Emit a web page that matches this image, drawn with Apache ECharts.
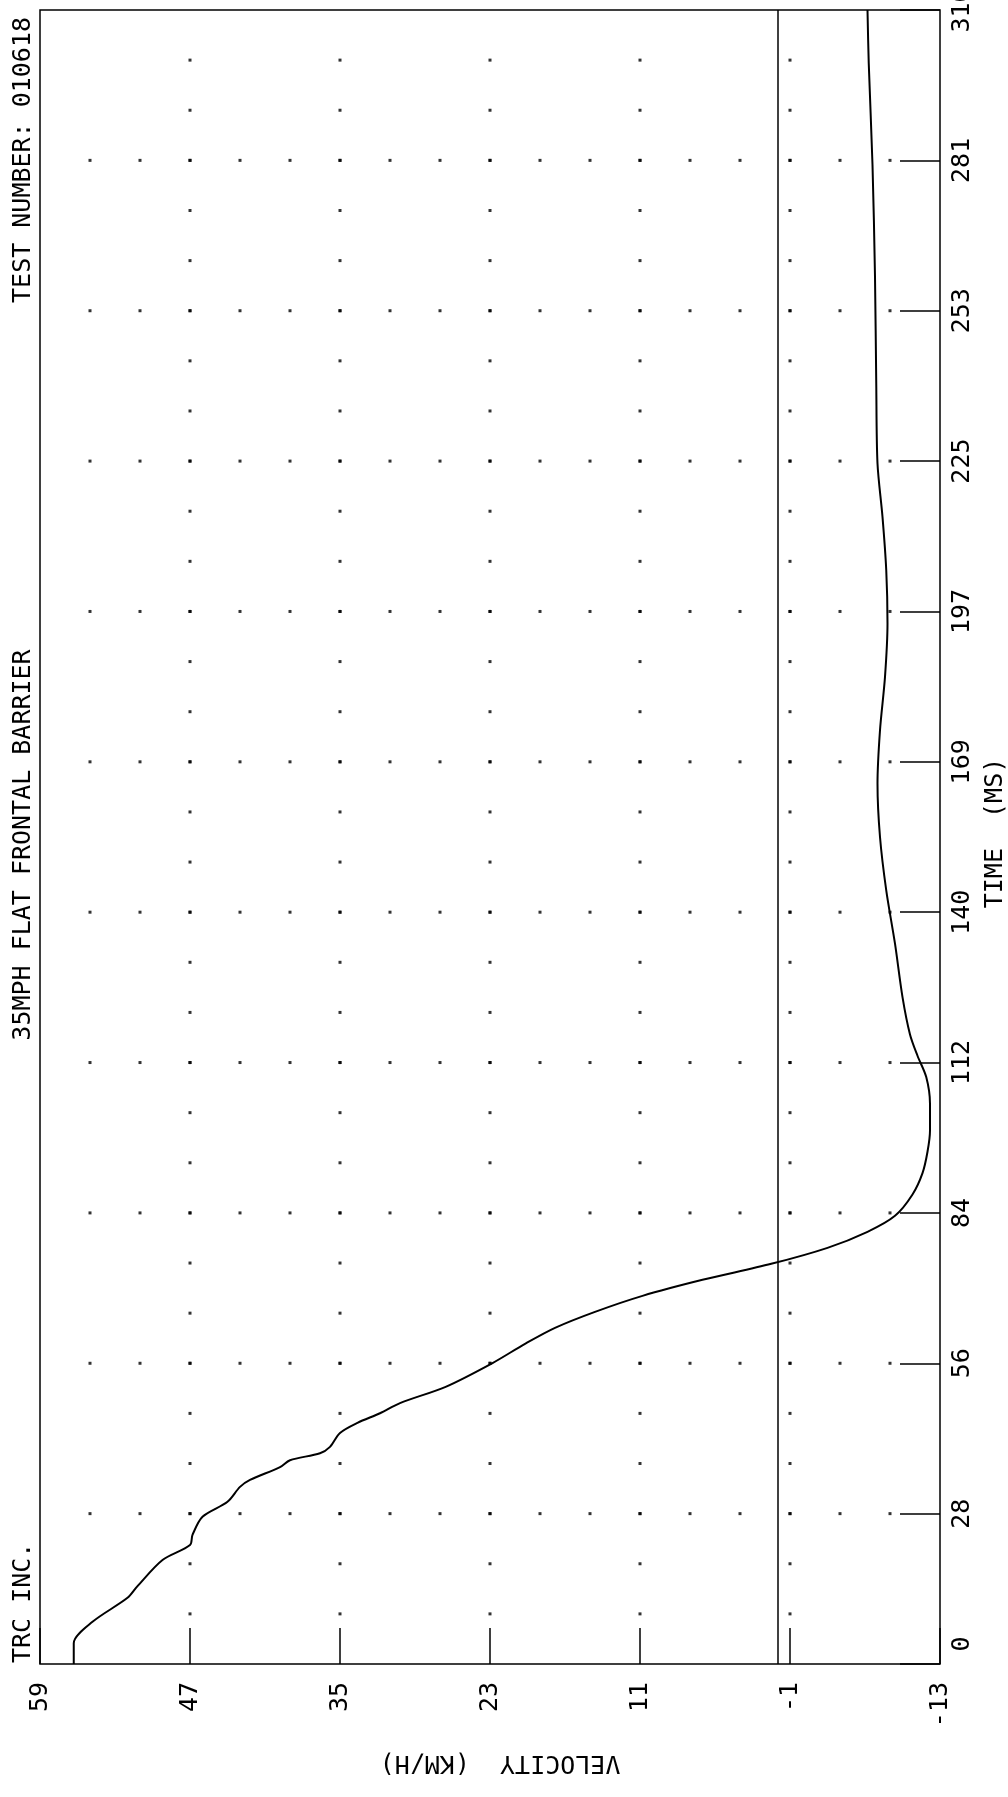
<!DOCTYPE html>
<html>
<head>
<meta charset="utf-8">
<script src="https://cdn.jsdelivr.net/npm/echarts@6/dist/echarts.min.js"></script>
<style>
html,body{margin:0;padding:0;background:#fff;}
#chart{width:1008px;height:1797px;}
</style>
</head>
<body>
<div id="chart"></div>
<script>
// ---- data ----
const timeMs = [0, 3.9, 7.9, 12.4, 14.6, 19.5, 22.3, 24.2, 27.6, 30.4, 33.2, 34.5, 36.9, 38.2, 39.5, 40.7, 43.3, 45.2, 47.0, 48.9, 52, 56.4, 60, 63, 66, 69, 72, 75, 78, 81, 84, 88, 92, 96, 100, 105, 110, 114, 118, 125, 135, 145, 155, 165, 175, 185, 195, 205, 215, 225, 240, 260, 281, 300, 310];
const velocityKmh = [56.3, 56.3, 54.8, 52.0, 51.2, 49.2, 47.0, 46.8, 46.0, 44.0, 43.0, 42.2, 39.8, 39.0, 36.6, 35.8, 35.0, 33.6, 31.8, 30.2, 26.5, 22.8, 20.2, 17.8, 14.6, 10.8, 6.0, 0.5, -4.0, -7.2, -9.4, -10.8, -11.6, -12.0, -12.2, -12.2, -11.9, -11.2, -10.6, -10.0, -9.4, -8.7, -8.2, -8.0, -8.2, -8.6, -8.8, -8.7, -8.4, -8.0, -7.9, -7.8, -7.6, -7.3, -7.2];
const velocityTicks = [59, 47, 35, 23, 11, -1, -13];
const timeTickLabels = ['0', '28', '56', '84', '112', '140', '169', '197', '225', '253', '281', '310'];
const timeMax = 310;
const velMin = -13, velMax = 59;
const titleText = '35MPH FLAT FRONTAL BARRIER';
const testText = 'TEST NUMBER: 010618';
const orgText = 'TRC INC.';
const xName = 'TIME  (MS)';
const yName = 'VELOCITY  (KM/H)';

// ---- derived ----
const timeTicks = timeTickLabels.map((_, i) => i * timeMax / 11);
const series = timeMs.map((t, i) => [velocityKmh[i], t]);
const dots = [];
for (let i = 1; i < timeTicks.length - 1; i++) {
  for (let v = velMax - 4; v > velMin; v -= 4) dots.push([v, timeTicks[i]]);
}
velocityTicks.slice(1, -1).forEach(v => {
  for (let j = 1; j < 33; j++) dots.push([v, j * timeMax / 33]);
});

const FONT = 'DejaVu Sans Mono';
const chart = echarts.init(document.getElementById('chart'), null, {renderer: 'canvas'});
chart.setOption({
  animation: false,
  backgroundColor: '#fff',
  grid: {left: 40, right: 68, top: 10, bottom: 133, containLabel: false, outerBoundsMode: 'none',
    show: true, borderColor: '#000', borderWidth: 1.5, backgroundColor: 'transparent'},
  xAxis: {
    type: 'value', min: velMin, max: velMax, inverse: true,
    axisLine: {show: false, onZero: false},
    splitLine: {show: false},
    axisTick: {show: true, inside: true, length: 36, customValues: velocityTicks, lineStyle: {color: '#000', width: 1.5}},
    axisLabel: {show: true, customValues: velocityTicks, rotate: 90, margin: 18, color: '#000', fontFamily: FONT, fontSize: 25,
      formatter: v => String(velocityTicks.find(x => Math.abs(x - v) < 1e-6))}
  },
  yAxis: {
    type: 'value', min: 0, max: timeMax, position: 'right',
    axisLine: {show: false, onZero: false},
    splitLine: {show: false},
    axisTick: {show: true, inside: true, length: 40, customValues: timeTicks, lineStyle: {color: '#000', width: 1.5}},
    axisLabel: {show: true, customValues: timeTicks, rotate: 90, margin: 10, color: '#000', fontFamily: FONT, fontSize: 25,
      rich: {
        z: {fontFamily: FONT, fontSize: 25, color: '#000', padding: [0, 0, 0, 40]}
      },
      formatter: v => {
        let k = 0, best = 1e9;
        timeTicks.forEach((t, i) => { if (Math.abs(t - v) < best) { best = Math.abs(t - v); k = i; } });
        if (k === 0) return '{z|' + timeTickLabels[k] + '}';
        return timeTickLabels[k];
      }}
  },
  series: [
    {
      type: 'scatter', data: dots, symbol: 'rect', symbolSize: 3, silent: true,
      itemStyle: {color: '#000'}, z: 1
    },
    {
      type: 'line', data: series, showSymbol: false, smooth: 0.3, silent: true,
      lineStyle: {color: '#000', width: 2}, z: 3,
      markLine: {
        silent: true, symbol: 'none', label: {show: false},
        lineStyle: {color: '#000', width: 1.5, type: 'solid'},
        data: [{xAxis: 0}]
      }
    }
  ],
  graphic: [
    {type: 'text', x: 23, y: 17, rotation: Math.PI / 2, style: {text: testText, font: '25px "' + FONT + '"', fill: '#000', align: 'right', verticalAlign: 'middle'}},
    {type: 'text', x: 23, y: 845, rotation: Math.PI / 2, style: {text: titleText, font: '25px "' + FONT + '"', fill: '#000', align: 'center', verticalAlign: 'middle'}},
    {type: 'text', x: 23, y: 1663, rotation: Math.PI / 2, style: {text: orgText, font: '25px "' + FONT + '"', fill: '#000', align: 'left', verticalAlign: 'middle'}},
    {type: 'text', x: 995, y: 833, rotation: Math.PI / 2, style: {text: xName, font: '25px "' + FONT + '"', fill: '#000', align: 'center', verticalAlign: 'middle'}},
    {type: 'text', x: 500, y: 1762, rotation: Math.PI, style: {text: yName, font: '25px "' + FONT + '"', fill: '#000', align: 'center', verticalAlign: 'middle'}}
  ]
});
</script>
</body>
</html>
